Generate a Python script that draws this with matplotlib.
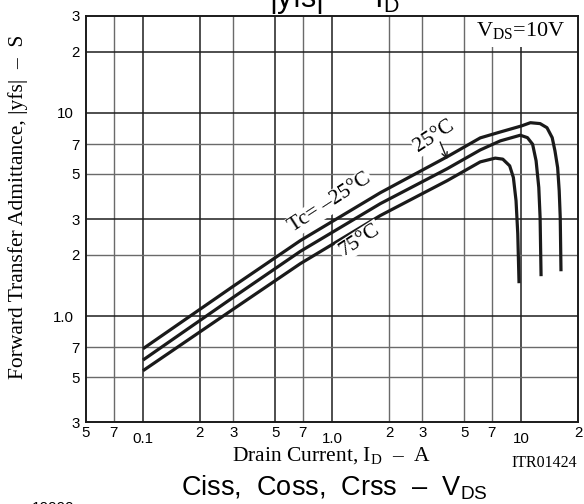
import matplotlib
matplotlib.use("Agg")
import matplotlib.pyplot as plt

plt.rcParams["mathtext.fontset"] = "custom"
plt.rcParams["mathtext.rm"] = "Liberation Serif"
plt.rcParams["mathtext.sf"] = "Liberation Sans"

SERIF = "Liberation Serif"
SANS = "Liberation Sans"

# ==========================================
# DATA
# ==========================================
# Tc = -25 C
id_m25 = [0.1, 0.3, 0.68, 1.8, 4.06, 6.08, 7.76, 10.0, 11.2, 12.6, 13.7, 14.6, 15.1, 15.6, 15.9, 16.1, 16.25]
yfs_m25 = [0.69, 1.40, 2.35, 4.04, 6.07, 7.52, 8.04, 8.6, 8.93, 8.84, 8.44, 7.54, 6.49, 5.37, 4.13, 3.06, 1.66]

# Tc = 25 C
id_25 = [0.1, 0.3, 0.68, 1.8, 4.06, 6.08, 7.76, 9.9, 10.8, 11.5, 12.0, 12.4, 12.6, 12.75]
yfs_25 = [0.607, 1.235, 2.08, 3.57, 5.3, 6.56, 7.27, 7.75, 7.54, 7.0, 5.8, 4.29, 3.05, 1.57]

# Tc = 75 C
id_75 = [0.1, 0.3, 0.68, 1.8, 4.06, 6.08, 7.3, 8.0, 8.7, 9.1, 9.4, 9.6, 9.75]
yfs_75 = [0.538, 1.08, 1.81, 3.12, 4.63, 5.73, 5.98, 5.91, 5.48, 4.8, 3.69, 2.54, 1.45]

# axis ticks
x_major = [0.1, 1, 10]
x_major_labels = ["0.1", "1.0", "10"]
x_minor = [0.05, 0.07, 0.2, 0.3, 0.5, 0.7, 2, 3, 5, 7, 20]
x_minor_labels = ["5", "7", "2", "3", "5", "7", "2", "3", "5", "7", "2"]

y_major = [1, 10]
y_major_labels = ["1.0", "10"]
y_minor = [0.3, 0.5, 0.7, 2, 3, 5, 7, 20, 30]
y_minor_labels = ["3", "5", "7", "2", "3", "5", "7", "2", "3"]

# grid lines: darker ones and lighter ones
x_grid_dark = [0.1, 0.2, 0.5, 1, 10]
x_grid_light = [0.07, 0.3, 0.7, 2, 3, 5, 7]
y_grid_dark = [1, 3, 10, 20]
y_grid_light = [0.5, 0.7, 2, 5, 7]

# ==========================================
# FIGURE
# ==========================================
fig = plt.figure(figsize=(5.84, 5.04), dpi=100)
ax = fig.add_axes([0.1473, 0.1621, 0.8425, 0.8067])
ax.set_xscale("log")
ax.set_yscale("log")
ax.set_xlim(0.05, 20)
ax.set_ylim(0.3, 30)

for x in x_grid_dark:
    ax.axvline(x, color="#1e1e1e", lw=1.1, zorder=1)
for x in x_grid_light:
    ax.axvline(x, color="#6a6a6a", lw=1.0, zorder=1)
for y in y_grid_dark:
    ax.axhline(y, color="#1e1e1e", lw=1.1, zorder=1)
for y in y_grid_light:
    ax.axhline(y, color="#6a6a6a", lw=1.0, zorder=1)

curve_kw = dict(color="#1a1a1a", lw=2.3, solid_joinstyle="round", solid_capstyle="butt", zorder=3)
ax.plot(id_m25, yfs_m25, **curve_kw)
ax.plot(id_25, yfs_25, **curve_kw)
ax.plot(id_75, yfs_75, **curve_kw)

# ticks
ax.xaxis.set_major_locator(plt.FixedLocator(x_major))
ax.xaxis.set_major_formatter(plt.FixedFormatter(x_major_labels))
ax.xaxis.set_minor_locator(plt.FixedLocator(x_minor))
ax.xaxis.set_minor_formatter(plt.FixedFormatter(x_minor_labels))
ax.yaxis.set_major_locator(plt.FixedLocator(y_major))
ax.yaxis.set_major_formatter(plt.FixedFormatter(y_major_labels))
ax.yaxis.set_minor_locator(plt.FixedLocator(y_minor))
ax.yaxis.set_minor_formatter(plt.FixedFormatter(y_minor_labels))

ax.tick_params(axis="x", which="major", length=0, pad=6.8, labelsize=10.8)
ax.tick_params(axis="x", which="minor", length=0, pad=3.0, labelsize=10.8)
ax.tick_params(axis="y", which="major", length=0, pad=8.6, labelsize=10.8)
ax.tick_params(axis="y", which="minor", length=0, pad=4.4, labelsize=10.8)
for lab in ax.get_xticklabels(which="both") + ax.get_yticklabels(which="both"):
    lab.set_fontfamily(SANS)

for sp in ax.spines.values():
    sp.set_linewidth(1.4)
    sp.set_color("#1a1a1a")
    sp.set_zorder(5)

# axis labels
ax.set_xlabel(r"Drain Current, I$_{\mathrm{D}}$  –  A", fontfamily=SERIF, fontsize=15.5)
ax.xaxis.set_label_coords(0.5, -0.058)
ax.xaxis.label.set_va("top")
ax.set_ylabel("Forward Transfer Admittance, |yfs|  –  S", fontfamily=SERIF, fontsize=15.5)
ax.yaxis.set_label_coords(-0.138, 0.530)
ax.yaxis.label.set_va("center")

# curve labels
box = dict(facecolor="white", edgecolor="none", pad=1.0)
ax.text(0.98, 3.6, "Tc= –25°C", fontfamily=SERIF, fontsize=15.5, rotation=33,
        ha="center", va="center", bbox=box, zorder=4)
ax.text(1.41, 2.35, "75°C", fontfamily=SERIF, fontsize=15.5, rotation=33,
        ha="center", va="center", bbox=box, zorder=4)
ax.text(3.47, 7.69, "25°C", fontfamily=SERIF, fontsize=15.5, rotation=33,
        ha="center", va="center", bbox=box, zorder=4)
ax.annotate("", xy=(4.07, 5.9), xytext=(3.73, 7.18),
            arrowprops=dict(arrowstyle="->", lw=1.0, color="#1a1a1a",
                            shrinkA=0, shrinkB=0), zorder=4)

ax.text(17.2, 23.8, r"V$_{\mathrm{DS}}$=10V", fontfamily=SERIF, fontsize=16,
        ha="right", va="baseline",
        bbox=dict(facecolor="white", edgecolor="none", pad=3.5), zorder=4)

fig.text(577 / 584, 1 - 467 / 504, "ITR01424", fontfamily=SERIF, fontsize=11.5,
         ha="right", va="baseline")

# neighbouring chart titles cut by the crop
fig.text(334 / 584, 1 - 7 / 504, r"|yfs|  –  I$_{\mathsf{D}}$", fontfamily=SANS, fontsize=22,
         ha="center", va="baseline")
fig.text(334 / 584, 1 - 496 / 504, r"Ciss,  Coss,  Crss  –  V$_{\mathsf{DS}}$", fontfamily=SANS,
         fontsize=19.5, ha="center", va="baseline")
fig.text(32 / 584, 1 - 512 / 504, "10000", fontfamily=SANS, fontsize=11,
         ha="left", va="baseline")

fig.savefig("out.png", dpi=100)
